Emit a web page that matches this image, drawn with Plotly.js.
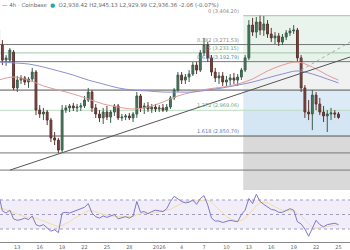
<!DOCTYPE html>
<html><head><meta charset="utf-8">
<script src="https://cdn.plot.ly/plotly-3.0.1.min.js"></script>
<style>html,body{margin:0;padding:0;background:#fff}#c{width:350px;height:250px}</style>
</head><body><div id="c"></div>
<script>
// 12h candles starting 2025-12-10 12:00
const startTime = Date.UTC(2025, 11, 10, 12, 0);
const openP = [3338,3269,3200,3200,3237,3072,3108,3118,3099,3113,3145,2970,2952,2961,2924,2842,2832,2786,2970,2980,2989,2980,2984,2989,3016,3053,2980,2952,2934,2961,2938,2961,2989,2934,2938,2943,2934,2952,3035,2980,2989,2975,2984,2975,2980,2970,2984,3026,3062,3131,3108,3122,3136,3177,3154,3233,3269,3210,3145,3118,3127,3099,3108,3118,3108,3122,3154,3210,3361,3329,3375,3338,3366,3320,3302,3311,3283,3306,3325,3334,3338,3210,3072,2961,2952,3039,2998,2961,2943,2952,2957,2952];
const highP = [3453,3292,3223,3256,3246,3127,3131,3127,3122,3164,3154,2993,2980,2970,2934,2869,2842,2993,2993,2998,3003,2998,3003,3035,3072,3062,2998,2970,2980,2989,2970,2998,2998,2952,2952,2957,2961,3053,3044,3003,3007,2998,2998,2993,2998,2998,3035,3072,3145,3145,3136,3154,3191,3191,3246,3302,3283,3223,3164,3145,3145,3127,3136,3141,3136,3164,3223,3384,3394,3398,3404.2,3403,3384,3348,3329,3325,3320,3338,3348,3361,3348,3223,3085,3016,3062,3053,3026,2989,2970,2980,2970,2961];
const lowP = [3246,3177,3173,3191,3062,3053,3090,3085,3072,3099,2947,2934,2924,2901,2823,2809,2773,2777,2957,2961,2966,2961,2966,2980,3007,2961,2934,2915,2906,2924,2911,2943,2924,2920,2924,2924,2915,2934,2961,2952,2961,2957,2961,2961,2961,2961,2975,3016,3053,3090,3090,3099,3127,3136,3145,3219,3191,3127,3099,3090,3081,3081,3085,3090,3081,3108,3145,3200,3311,3302,3315,3311,3302,3283,3274,3265,3269,3292,3311,3320,3191,3053,2934,2924,2878,2970,2947,2915,2869,2924,2934,2929.99];
const closeP = [3269,3200,3210,3246,3072,3108,3118,3099,3113,3145,2970,2952,2961,2924,2842,2832,2786,2970,2980,2989,2980,2984,2989,3016,3053,2980,2952,2934,2961,2938,2961,2989,2934,2938,2943,2934,2952,3035,2980,2989,2975,2984,2975,2980,2970,2984,3026,3062,3131,3108,3122,3136,3177,3154,3233,3269,3210,3145,3118,3127,3099,3108,3118,3108,3122,3154,3210,3361,3329,3375,3338,3366,3320,3302,3311,3283,3306,3325,3334,3338,3210,3072,2961,2952,3039,2998,2961,2943,2952,2957,2952,2936.36];
const rsi = [78,55,52,56,44,42,43,45,43,48,36,34,36,31,27,29,25,52,53,52,54,55,57,60,65,52,47,45,48,46,48,50,44,46,47,45,48,68,53,54,51,54,56,55,54,58,68,75,71,68,66,67,70,64,72,76,63,45,41,41,39,41,42,41,40,50,56,72,65,78,68,64,60,57,56,53,53,55,58,56,40,37,30,20,30,42,36,33,36,37,38,36];
const rsiMA = [60,58,56,54,52,50,48,47,46,46,45,43,41,39,37,35,33,35,37,40,44,47,50,53,55,55,54,52,50,49,48,48,47,47,47,46,47,50,51,52,52,53,53,54,54,55,57,60,63,66,68,68,68,68,69,70,70,67,62,57,52,47,44,42,41,42,45,50,56,62,66,67,66,63,60,58,56,55,55,55,52,48,43,37,32,31,32,33,34,35,36,36];
// moving averages sampled every 4th candle (+ last)
const maIdx = [0,4,8,12,16,20,24,28,32,36,40,44,48,52,56,60,64,68,72,76,80,84,88,91];
const maRed = [3108,3122,3108,3081,3062,3044,3021,2998,2984,2975,2984,3007,3035,3053,3067,3076,3090,3113,3150,3177,3191,3168,3131,3108];
const maBlue = [3191,3187,3182,3168,3150,3131,3108,3090,3072,3062,3058,3053,3053,3053,3062,3072,3085,3099,3118,3136,3150,3136,3113,3095];
// fibonacci levels
const fibLevels = [0, 0.382, 0.5, 0.618, 1, 1.272, 1.618];
const fibPrices = [3404.20, 3271.53, 3233.15, 3192.79, 3062.0, 2969.06, 2850.70];
const fibStart = '2026-01-12 06:00';
// other horizontal levels
const hLevels = [2773, 2694];
// trendlines (date, price)
const trendX = ['2025-12-12 00:30', '2026-01-26 13:00'];
const trendY = [2694, 3214];
const dashX = ['2026-01-20 00:00', '2026-01-26 13:00'];
const dashY = [3154, 3283];
const tickVals = ['2025-12-13','2025-12-16','2025-12-19','2025-12-22','2025-12-25','2025-12-28','2026-01-01','2026-01-04','2026-01-07','2026-01-10','2026-01-13','2026-01-16','2026-01-19','2026-01-22','2026-01-25'];
const tickText = ['13','16','19','22','25','28','2026','4','7','10','13','16','19','22','25'];

const fmt = d => { const t = new Date(d); return t.toISOString().slice(0,16).replace('T',' '); };
const dates = openP.map((_, i) => fmt(startTime + i * 12 * 3600e3));
const maDates = maIdx.map(i => dates[i]);

const X0 = '2025-12-10 16:25', X1 = '2026-01-26 13:00';
const traces = [
  {type:'candlestick', x:dates, open:openP, high:highP, low:lowP, close:closeP, xaxis:'x', yaxis:'y',
   increasing:{line:{color:'#3a5e4c', width:1}, fillcolor:'#4a7a62'},
   decreasing:{line:{color:'#5e3430', width:1}, fillcolor:'#7e4440'}, whiskerwidth:0, hoverinfo:'skip'},
  {type:'scatter', mode:'lines', x:maDates, y:maRed, line:{color:'#e39a98', width:1, shape:'spline'}, xaxis:'x', yaxis:'y', hoverinfo:'skip'},
  {type:'scatter', mode:'lines', x:maDates, y:maBlue, line:{color:'#8e8fd0', width:1, shape:'spline'}, xaxis:'x', yaxis:'y', hoverinfo:'skip'},
  {type:'scatter', mode:'lines', x:trendX, y:trendY, line:{color:'#555', width:1}, xaxis:'x', yaxis:'y', hoverinfo:'skip'},
  {type:'scatter', mode:'lines', x:dashX, y:dashY, line:{color:'#aaa', width:1, dash:'dot'}, xaxis:'x', yaxis:'y', hoverinfo:'skip'},
  {type:'scatter', mode:'lines', x:dates, y:rsiMA, line:{color:'#f3dca6', width:1}, xaxis:'x', yaxis:'y2', hoverinfo:'skip'},
  {type:'scatter', mode:'lines', x:dates, y:rsi, line:{color:'#8078c8', width:1}, xaxis:'x', yaxis:'y2', hoverinfo:'skip'}
];

const fibFill = ['#e9f4ec','#e9f4ec','#e6f2ea','#f0f1f1','#dcebf6','#d4e6f3'];
const fibLine = ['#9fc9a8','#777','#9fc9a8','#777','#555','#b9dcbf','#555'];
const fibText = ['#888','#888','#6aa87a','#4f8fb0','#888','#6aa87a','#4f7fc0'];
const shapes = [];
for (let k = 0; k < fibLevels.length - 1; k++) {
  shapes.push({type:'rect', xref:'x', yref:'y', x0:fibStart, x1:X1, y0:fibPrices[k+1], y1:fibPrices[k], fillcolor:fibFill[k], line:{width:0}, layer:'below'});
}
shapes.push({type:'rect', xref:'x', yref:'y', x0:fibStart, x1:X1, y0:2602, y1:fibPrices[6], fillcolor:'#d9d9d9', line:{width:0}, layer:'below'});
shapes.push({type:'rect', xref:'x', yref:'y2', x0:X0, x1:X1, y0:30, y1:70, fillcolor:'#f1eefa', line:{width:0}, layer:'below'});
for (let k = 0; k < fibLevels.length; k++) {
  const full = k !== 0;
  shapes.push({type:'line', xref:'x', yref:'y', x0: full ? X0 : fibStart, x1:X1, y0:fibPrices[k], y1:fibPrices[k], line:{color:fibLine[k], width:1}, layer:'below'});
}
hLevels.forEach(p => shapes.push({type:'line', xref:'x', yref:'y', x0:X0, x1:X1, y0:p, y1:p, line:{color:'#777', width:1}, layer:'below'}));
[70,50,30].forEach(v => shapes.push({type:'line', xref:'x', yref:'y2', x0:X0, x1:X1, y0:v, y1:v, line:{color:'#a09cc0', width:1, dash:'dot'}, layer:'below'}));

const annotations = [];
const fibFmt = p => p.toLocaleString('en-US',{minimumFractionDigits:2, maximumFractionDigits:2});
for (let k = 0; k < fibLevels.length; k++) {
  if (fibLevels[k] === 1) continue;
  annotations.push({xref:'x', yref:'y', x:fibStart, y:fibPrices[k], xanchor:'right', yanchor:'bottom', xshift:-2,
    text: fibLevels[k] + ' (' + fibFmt(fibPrices[k]) + ')', showarrow:false, font:{size:5, color:fibText[k], family:'DejaVu Sans'}});
}
annotations.push({xref:'paper', yref:'paper', x:0, y:1, xanchor:'left', yanchor:'top', showarrow:false,
  text:'\u2014 4h \u00b7 Coinbase  <span style="color:#26a69a">\u25cf</span>  O2,938.42 H2,945.13 L2,929.99 C2,936.36 -2.06 (-0.07%)',
  font:{size:5.5, color:'#666', family:'DejaVu Sans'}});

const layout = {
  width:350, height:250, margin:{l:0, r:0, t:0, b:8}, paper_bgcolor:'#fff', plot_bgcolor:'#fff', showlegend:false,
  xaxis:{type:'date', range:[X0, X1], anchor:'y2', tickvals:tickVals, ticktext:tickText, showgrid:false, zeroline:false,
    showline:true, linecolor:'#888', linewidth:1, ticks:'', tickfont:{size:5, color:'#666', family:'DejaVu Sans'}, rangeslider:{visible:false}},
  yaxis:{domain:[0.2149,1], range:[2602.4,3476.4], showgrid:false, zeroline:false, showticklabels:false},
  yaxis2:{domain:[0,0.2149], range:[12.07,83.8], showgrid:false, zeroline:false, showticklabels:false},
  shapes:shapes, annotations:annotations
};
Plotly.newPlot('c', traces, layout, {staticPlot:true, displayModeBar:false});
</script></body></html>
